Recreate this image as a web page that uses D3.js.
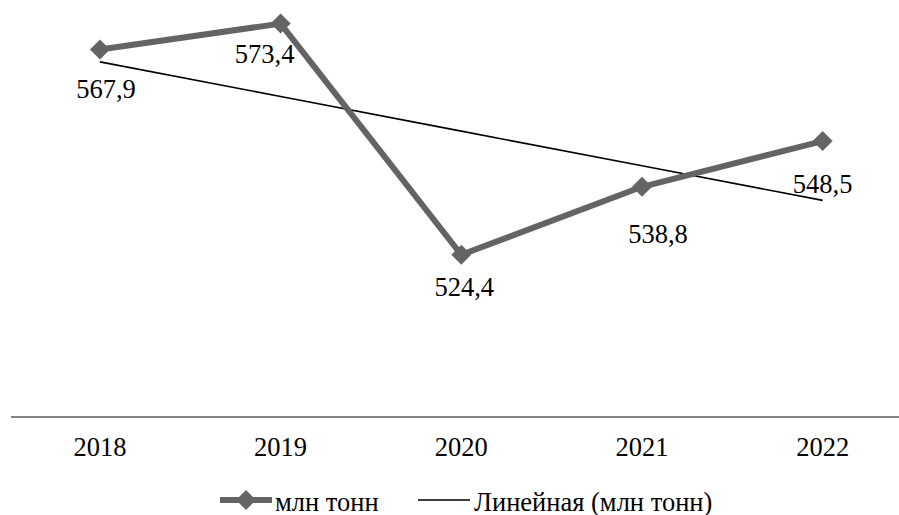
<!DOCTYPE html>
<html>
<head>
<meta charset="utf-8">
<script src="https://cdn.jsdelivr.net/npm/d3@7/dist/d3.min.js"></script>
<style>
  html, body { margin: 0; padding: 0; background: #fff; }
  svg { display: block; }
</style>
</head>
<body>
<svg id="chart" width="899" height="515"></svg>
<script>
// Production by year, million tonnes
const years = ["2018", "2019", "2020", "2021", "2022"];
const values = [567.9, 573.4, 524.4, 538.8, 548.5];
const seriesName = "млн тонн";
const trendName = "Линейная (млн тонн)";

// Label placement relative to each point (dx, baseline dy in px)
const labelOffsets = [[6, 48], [-16, 39], [3, 41], [16, 56], [0, 52]];

const FONT = "'Liberation Serif', 'Times New Roman', serif";
const FS = "26.5px";

const svg = d3.select("#chart");
const W = 899;

const x = d3.scaleBand()
  .domain(years)
  .range([9.6, 913]);

const y = d3.scaleLinear()
  .domain([490, 573.4])
  .range([417, 23.6]);

const cx = d => x(d) + x.bandwidth() / 2;
const fmt = v => d3.format(".1f")(v).replace(".", ",");

// Category axis line
svg.append("line")
  .attr("x1", 11).attr("x2", W)
  .attr("y1", y(490)).attr("y2", y(490))
  .attr("stroke", "#868686").attr("stroke-width", 2);

// Category labels
const xAxis = d3.axisBottom(x).tickSize(0).tickPadding(0);
const gx = svg.append("g").attr("transform", `translate(0, ${y(490)})`).call(xAxis);
gx.select(".domain").remove();
gx.attr("font-family", null).attr("font-size", null);
gx.selectAll("text")
  .attr("dy", null)
  .attr("y", 39)
  .style("font-family", FONT)
  .style("font-size", FS)
  .attr("fill", "#000");

// Linear least-squares trend
const xs = values.map((_, i) => i + 1);
const mx = d3.mean(xs), my = d3.mean(values);
const slope = d3.sum(xs.map((xi, i) => (xi - mx) * (values[i] - my))) / d3.sum(xs.map(xi => (xi - mx) ** 2));
const icpt = my - slope * mx;
const trend = xs.map(xi => icpt + slope * xi);

svg.append("path")
  .datum(trend)
  .attr("fill", "none")
  .attr("stroke", "#000")
  .attr("stroke-width", 1.6)
  .attr("d", d3.line().x((d, i) => cx(years[i])).y(d => y(d)));

// Main series
const grey = "#646464";
svg.append("path")
  .datum(values)
  .attr("fill", "none")
  .attr("stroke", grey)
  .attr("stroke-width", 6)
  .attr("stroke-linejoin", "round")
  .attr("d", d3.line().x((d, i) => cx(years[i])).y(d => y(d)));

const diamond = d3.symbol().type(d3.symbolDiamond2).size(255);
svg.selectAll(".mk").data(values).join("path")
  .attr("class", "mk")
  .attr("transform", (d, i) => `translate(${cx(years[i])}, ${y(d)})`)
  .attr("d", diamond)
  .attr("fill", grey);

// Data labels
svg.selectAll(".lbl").data(values).join("text")
  .attr("class", "lbl")
  .attr("x", (d, i) => cx(years[i]) + labelOffsets[i][0])
  .attr("y", (d, i) => y(d) + labelOffsets[i][1])
  .attr("text-anchor", "middle")
  .style("font-family", FONT)
  .style("font-size", FS)
  .attr("fill", "#000")
  .text(fmt);

// Legend
const lg = svg.append("g").attr("transform", "translate(0, 500)");
lg.append("line").attr("x1", 220).attr("x2", 272).attr("y1", 0).attr("y2", 0)
  .attr("stroke", grey).attr("stroke-width", 6);
lg.append("path").attr("transform", "translate(246, 0)").attr("d", diamond).attr("fill", grey);
lg.append("text").attr("x", 275).attr("y", 10.5)
  .style("font-family", FONT).style("font-size", FS).attr("fill", "#000").text(seriesName);
lg.append("line").attr("x1", 418).attr("x2", 470).attr("y1", 0).attr("y2", 0)
  .attr("stroke", "#000").attr("stroke-width", 1.6);
lg.append("text").attr("x", 474).attr("y", 10.5)
  .style("font-family", FONT).style("font-size", FS).attr("fill", "#000").text(trendName);
</script>
</body>
</html>
